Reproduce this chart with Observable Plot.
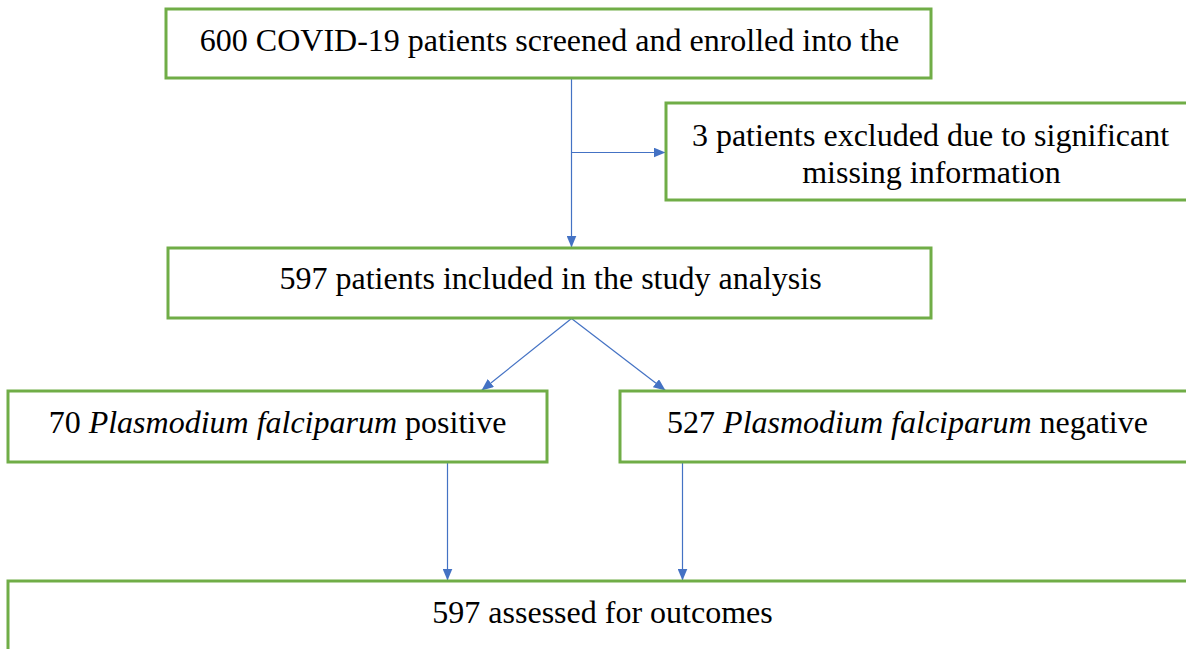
<!DOCTYPE html>
<html>
<head>
<meta charset="utf-8">
<script src="https://cdn.jsdelivr.net/npm/d3@7"></script>
<script src="https://cdn.jsdelivr.net/npm/@observablehq/plot@0.6"></script>
<style>
  html, body { margin: 0; padding: 0; background: #fff; }
  #chart svg { display: block; }
</style>
</head>
<body>
<div id="chart"></div>
<script>
// Flow-chart boxes (pixel coordinates)
const boxX1 = [166, 666, 168, 8, 620, 8];
const boxX2 = [931, 1200, 931, 547, 1200, 1200];
const boxY1 = [9, 103, 248, 391, 391, 581];
const boxY2 = [78, 200, 318, 462, 462, 690];

// Text lines
const labelText = [
  "600 COVID-19 patients screened and enrolled into the",
  "3 patients excluded due to significant",
  "missing information",
  "597 patients included in the study analysis",
  "70 Plasmodium falciparum positive",
  "527 Plasmodium falciparum negative",
  "597 assessed for outcomes"
];
const labelX = [549, 930, 931, 550, 277, 907, 602];
const labelY = [40, 135, 172, 278, 422, 422, 612];

// Connectors
const arrowX1 = [571, 571, 571, 571, 447, 682];
const arrowY1 = [78, 152, 318, 318, 462, 462];
const arrowX2 = [571, 665, 481, 665, 447, 682];
const arrowY2 = [247, 152, 390, 390, 580, 580];

const boxes = boxX1.map((x1, i) => ({x1, x2: boxX2[i], y1: boxY1[i], y2: boxY2[i]}));
const labels = labelText.map((t, i) => ({t, x: labelX[i], y: labelY[i]}));
const arrows = arrowX1.map((x1, i) => ({x1, y1: arrowY1[i], x2: arrowX2[i], y2: arrowY2[i]}));

function triangleHead(color, context) {
  const doc = context.document;
  const ns = "http://www.w3.org/2000/svg";
  const m = doc.createElementNS(ns, "marker");
  m.setAttribute("viewBox", "-12 -5 12 10");
  m.setAttribute("markerWidth", "12");
  m.setAttribute("markerHeight", "10");
  m.setAttribute("markerUnits", "userSpaceOnUse");
  m.setAttribute("orient", "auto");
  m.setAttribute("refX", "0");
  m.setAttribute("refY", "0");
  const p = doc.createElementNS(ns, "path");
  p.setAttribute("d", "M-12,-5L0,0L-12,5Z");
  p.setAttribute("fill", color);
  p.setAttribute("stroke", "none");
  m.appendChild(p);
  return m;
}

const W = 1186, H = 649;
const chart = Plot.plot({
  width: W,
  height: H,
  margin: 0,
  x: {domain: [0, W], range: [0, W], axis: null},
  y: {domain: [0, H], range: [0, H], axis: null},
  style: {fontFamily: "'Liberation Serif', 'Times New Roman', serif", background: "#fff"},
  marks: [
    Plot.link(arrows, {
      x1: "x1", y1: "y1", x2: "x2", y2: "y2",
      stroke: "#4472c4", strokeWidth: 1.2,
      markerEnd: triangleHead
    }),
    Plot.rect(boxes, {
      x1: "x1", x2: "x2", y1: "y1", y2: "y2",
      fill: "none", stroke: "#70ad47", strokeWidth: 3
    }),
    Plot.text(labels, {
      x: "x", y: "y", text: "t",
      fontSize: 32, fill: "#000", textAnchor: "middle", lineAnchor: "middle"
    })
  ]
});

// Italicize the species name
chart.querySelectorAll("text").forEach(el => {
  const s = el.textContent;
  const key = "Plasmodium falciparum";
  const k = s.indexOf(key);
  if (k >= 0) {
    el.textContent = "";
    const parts = [[s.slice(0, k), false], [key, true], [s.slice(k + key.length), false]];
    for (const [txt, it] of parts) {
      const ts = document.createElementNS("http://www.w3.org/2000/svg", "tspan");
      ts.textContent = txt;
      if (it) ts.setAttribute("font-style", "italic");
      el.appendChild(ts);
    }
  }
});

document.getElementById("chart").appendChild(chart);
</script>
</body>
</html>
